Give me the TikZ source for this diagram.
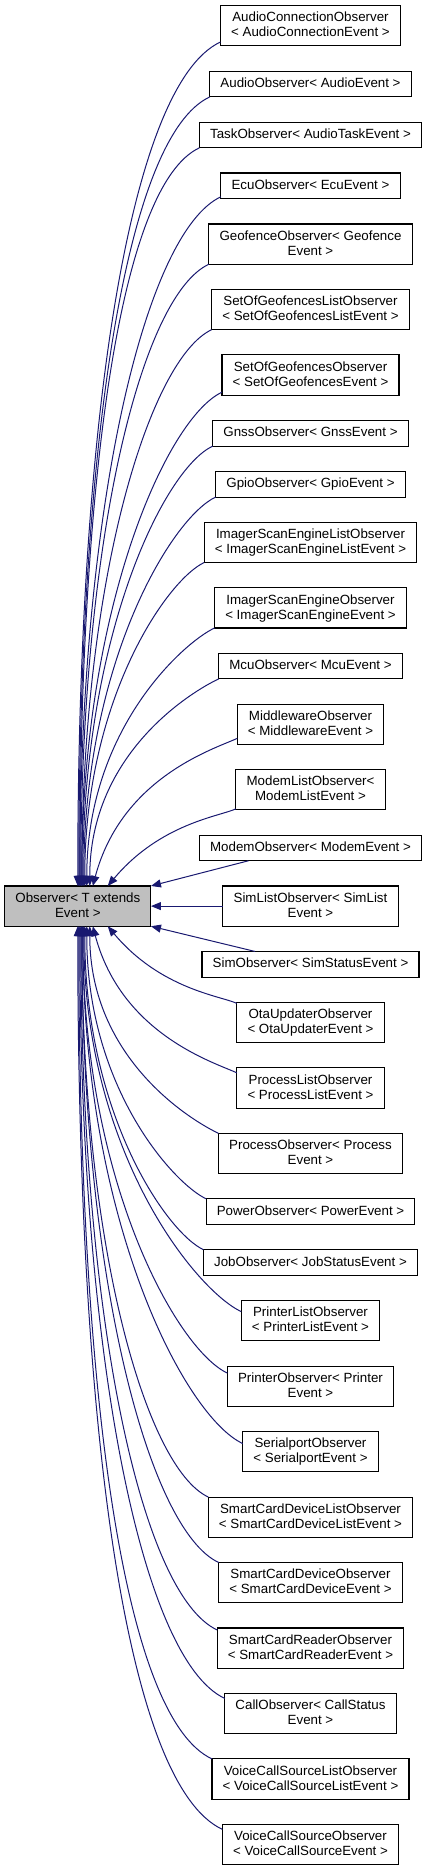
\documentclass[tikz,border=0pt]{standalone}
\usepackage{fontspec}
\setmainfont{Liberation Sans}
\usepackage{xcolor}
\usetikzlibrary{positioning}
\usetikzlibrary{arrows.meta}
\usetikzlibrary{calc}
\definecolor{edgeblue}{HTML}{191970}
\definecolor{basegray}{HTML}{BFBFBF}

\begin{document}
\begin{tikzpicture}[x=0.75pt, y=0.75pt, >={Triangle[length=7.5pt,width=6pt]},
                    node distance=18.9pt, outer sep=0pt,
                    cls/.style={rectangle,draw=black,line width=0.8pt,inner xsep=8pt,inner ysep=0pt,
                      font=\fontsize{10}{11.25}\selectfont,align=center,
                      text height=7.5pt,text depth=2pt,minimum height=19.3pt},
                    two/.style={text height=18.75pt,minimum height=30.2pt},
                    inh/.style={<-,draw=edgeblue,line width=0.75pt},
                    up/.style={in=205,out looseness=1.4,in looseness=0.3},
                    down/.style={in=155,out looseness=1.4,in looseness=0.3}]
      \useasboundingbox (0,0) rectangle (428,-1873);

      % derived observers, top to bottom
      \node[cls,two,anchor=north] (acon) at (310.5,-5.7) {AudioConnectionObserver\\< AudioConnectionEvent >};
      \node[cls] (aud) [below=of acon] {AudioObserver< AudioEvent >};
      \node[cls] (task) [below=of aud] {TaskObserver< AudioTaskEvent >};
      \node[cls] (ecu) [below=of task] {EcuObserver< EcuEvent >};
      \node[cls,two] (geof) [below=of ecu] {GeofenceObserver< Geofence\\Event >};
      \node[cls,two] (sogl) [below=of geof] {SetOfGeofencesListObserver\\< SetOfGeofencesListEvent >};
      \node[cls,two] (sog) [below=of sogl] {SetOfGeofencesObserver\\< SetOfGeofencesEvent >};
      \node[cls] (gnss) [below=of sog] {GnssObserver< GnssEvent >};
      \node[cls] (gpio) [below=of gnss] {GpioObserver< GpioEvent >};
      \node[cls,two] (isel) [below=of gpio] {ImagerScanEngineListObserver\\< ImagerScanEngineListEvent >};
      \node[cls,two] (ise) [below=of isel] {ImagerScanEngineObserver\\< ImagerScanEngineEvent >};
      \node[cls] (mcu) [below=of ise] {McuObserver< McuEvent >};
      \node[cls,two] (mware) [below=of mcu] {MiddlewareObserver\\< MiddlewareEvent >};
      \node[cls,two] (mlist) [below=of mware] {ModemListObserver<\\ModemListEvent >};
      \node[cls] (modem) [below=of mlist] {ModemObserver< ModemEvent >};
      \node[cls,two] (slist) [below=of modem] {SimListObserver< SimList\\Event >};
      \node[cls] (sim) [below=of slist] {SimObserver< SimStatusEvent >};
      \node[cls,two] (ota) [below=of sim] {OtaUpdaterObserver\\< OtaUpdaterEvent >};
      \node[cls,two] (plist) [below=of ota] {ProcessListObserver\\< ProcessListEvent >};
      \node[cls,two] (proc) [below=of plist] {ProcessObserver< Process\\Event >};
      \node[cls] (power) [below=of proc] {PowerObserver< PowerEvent >};
      \node[cls] (job) [below=of power] {JobObserver< JobStatusEvent >};
      \node[cls,two] (prlist) [below=of job] {PrinterListObserver\\< PrinterListEvent >};
      \node[cls,two] (printer) [below=of prlist] {PrinterObserver< Printer\\Event >};
      \node[cls,two] (serial) [below=of printer] {SerialportObserver\\< SerialportEvent >};
      \node[cls,two] (scdl) [below=of serial] {SmartCardDeviceListObserver\\< SmartCardDeviceListEvent >};
      \node[cls,two] (scd) [below=of scdl] {SmartCardDeviceObserver\\< SmartCardDeviceEvent >};
      \node[cls,two] (scr) [below=of scd] {SmartCardReaderObserver\\< SmartCardReaderEvent >};
      \node[cls,two] (call) [below=of scr] {CallObserver< CallStatus\\Event >};
      \node[cls,two] (vcsl) [below=of call] {VoiceCallSourceListObserver\\< VoiceCallSourceListEvent >};
      \node[cls,two] (vcs) [below=of vcsl] {VoiceCallSourceObserver\\< VoiceCallSourceEvent >};

      % base class
      \node[cls,two,fill=basegray] (base) [left=54pt of slist] {Observer< T extends\\Event >};

      % inheritance arrows: child/end on base/out angle/start offset on child
      \foreach \c/\e/\o/\s in {acon/73/90/4, aud/74/90/0, task/75/90/0, ecu/75/90/2, geof/76/90/0,
                               sogl/77/90/0, sog/77/90/3, gnss/78/90/0, gpio/79/90/0, isel/80/90/0,
                               ise/82/90/0, mcu/85/90/0, mware/88/75/6, mlist/103/50/1}
        \draw[inh] ($(base.north west)+(\e,0)$) to[up,out=\o] ($(\c.south west)+(0,\s)$);
      \foreach \c/\e/\o/\s in {ota/103/-50/1, plist/88/-75/5, proc/85/-90/0, power/82/-90/0,
                               job/80/-90/0, prlist/79/-90/11, printer/78/-90/7, serial/78/-90/12,
                               scdl/77/-90/0, scd/77/-90/0, scr/76/-90/2, call/75/-90/5,
                               vcsl/74/-90/0, vcs/73/-90/5}
        \draw[inh] ($(base.south west)+(\e,0)$) to[down,out=\o] ($(\c.north west)+(0,-\s)$);
      \draw[inh] (base.north east) -- ($(modem.south west)+(49,0)$);
      \draw[inh] (base.east) -- (slist.west);
      \draw[inh] (base.south east) -- ($(sim.north west)+(53,0)$);
\end{tikzpicture}
\end{document}
